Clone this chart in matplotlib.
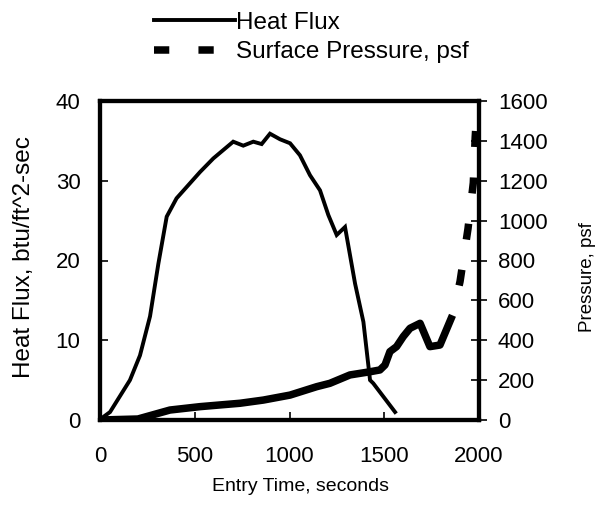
import matplotlib
matplotlib.use("Agg")
import matplotlib.pyplot as plt
from matplotlib.lines import Line2D

plt.rcParams['font.family'] = ['Liberation Sans', 'DejaVu Sans']
plt.rcParams['lines.scale_dashes'] = False

# Heat flux series (btu/ft^2-sec) vs entry time (s)
hf_time = [0, 10, 53, 158, 211, 264, 308, 352, 404, 528, 598, 703, 756, 809, 853, 897,
           950, 1003, 1055, 1108, 1161, 1205, 1249, 1293, 1346, 1390, 1425, 1442, 1557]
hf_value = [0, 0.25, 1.0, 5.0, 8.1, 13.0, 19.6, 25.5, 27.8, 31.1, 32.8, 34.9, 34.4, 34.9, 34.6, 35.9,
            35.2, 34.7, 33.2, 30.7, 28.8, 25.7, 23.2, 24.2, 17.1, 12.3, 5.0, 4.6, 1.0]

# Surface pressure (psf) vs entry time (s): densely sampled part
p_time = [0, 200, 369, 528, 739, 862, 1003, 1143, 1213, 1319, 1425, 1477, 1504, 1530,
          1565, 1600, 1636, 1689, 1741, 1794, 1860]
p_value = [0, 5, 50, 67, 84, 100, 125, 167, 184, 226, 242, 251, 276, 343,
           368, 418, 460, 485, 368, 376, 525]
# sparsely sampled tail
p_tail_time = [1860, 1900, 1942, 1970, 1980, 1992]
p_tail_value = [525, 695, 960, 1190, 1420, 1600]

x_ticks = [0, 500, 1000, 1500, 2000]
hf_ticks = [0, 10, 20, 30, 40]
p_ticks = [0, 200, 400, 600, 800, 1000, 1200, 1400, 1600]

fig = plt.figure(figsize=(6.05, 5.05), dpi=100)
ax = fig.add_axes([100/605, 1-420/505, 379/605, 319/505])
ax2 = ax.twinx()

hf_line, = ax.plot(hf_time, hf_value, color='black', lw=2.8, solid_joinstyle='miter',
                   label='Heat Flux')
ax2.plot(p_time, p_value, color='black', lw=5.4, solid_joinstyle='round', solid_capstyle='butt')
on, off = 11.5, 22
tail_line, = ax2.plot(p_tail_time, p_tail_value, color='black', lw=5.4,
                      linestyle=(on, (on, off)), dash_capstyle='butt',
                      label='Surface Pressure, psf')

ax.set_xlim(0, 2000)
ax.set_ylim(0, 40)
ax2.set_ylim(0, 1600)
ax.set_xticks(x_ticks)
ax.set_yticks(hf_ticks)
ax2.set_yticks(p_ticks)

for a in (ax, ax2):
    for s in a.spines.values():
        s.set_linewidth(3.0)
        s.set_color('black')

ax.tick_params(axis='x', direction='in', length=6, width=1.2, labelsize=16, pad=19)
ax.tick_params(axis='y', direction='in', length=6, width=1.2, labelsize=16, pad=14)
ax2.tick_params(axis='y', direction='inout', length=11, width=1.2, labelsize=16, pad=8)

ax.set_xlabel('Entry Time, seconds', fontsize=14)
ax.xaxis.set_label_coords(0.528, -0.183)
ax.set_ylabel('Heat Flux, btu/ft^2-sec', fontsize=17.5)
ax.yaxis.set_label_coords(-0.172, 0.51)
ax2.set_ylabel('Pressure, psf', fontsize=13.5)
ax2.yaxis.set_label_coords(1.265, 0.448)

legend_handles = [Line2D([], [], color='black', lw=2.8),
                  Line2D([], [], color='black', lw=5.4, linestyle=(0, (11, 21)), dash_capstyle='butt')]
fig.legend(legend_handles, ['Heat Flux', 'Surface Pressure, psf'],
           loc='upper left', bbox_to_anchor=(144/605, 1 - 2/505), frameon=False,
           fontsize=17.5, handlelength=3.33, handletextpad=0.05, labelspacing=0.3,
           borderaxespad=0.0)

fig.savefig('out.png', dpi=100)
